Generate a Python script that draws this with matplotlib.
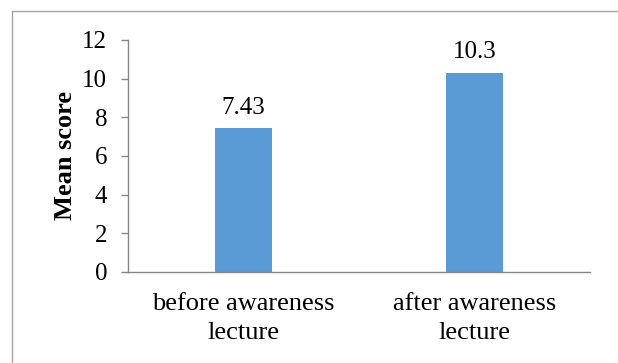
import matplotlib
matplotlib.use("Agg")
import matplotlib.pyplot as plt
from matplotlib.lines import Line2D

categories = ["before awareness\nlecture", "after awareness\nlecture"]
mean_scores = [7.43, 10.3]
yticks = [0, 2, 4, 6, 8, 10, 12]

plt.rcParams['font.family'] = ['Liberation Serif', 'DejaVu Serif']

fig = plt.figure(figsize=(6.18, 3.63), dpi=100)
ax = fig.add_axes([128/618, 1 - 272/363, 462/618, 232/363])

x = range(len(categories))
bars = ax.bar(x, mean_scores, width=0.247, color='#5B9BD5')

for b, v in zip(bars, mean_scores):
    ax.annotate(f"{v:g}", (b.get_x() + b.get_width()/2, v), xytext=(0, 7),
                textcoords='offset points', ha='center', va='bottom', fontsize=18)

ax.set_xlim(-0.5, len(categories) - 0.5)
ax.set_ylim(0, 12)
ax.set_yticks(yticks)
ax.set_xticks(list(x))
ax.set_xticklabels(categories, fontsize=19, linespacing=1.42)
ax.tick_params(axis='x', length=0, pad=15)
ax.tick_params(axis='y', length=5, width=1, color='#868686', labelsize=18, pad=10)

for s in ['top', 'right']:
    ax.spines[s].set_visible(False)
for s in ['left', 'bottom']:
    ax.spines[s].set_color('#868686')
    ax.spines[s].set_linewidth(1)

ax.set_ylabel("Mean score", fontsize=19, fontweight='bold', labelpad=4)

# chart frame, only left and top edges visible
fx, fy = 11.5/618, 1 - 10.5/363
fig.add_artist(Line2D([fx, fx], [-0.1, fy], transform=fig.transFigure, color='#A6A6A6', lw=1))
fig.add_artist(Line2D([fx, 1.1], [fy, fy], transform=fig.transFigure, color='#A6A6A6', lw=1))

fig.savefig("out.png", dpi=100)
